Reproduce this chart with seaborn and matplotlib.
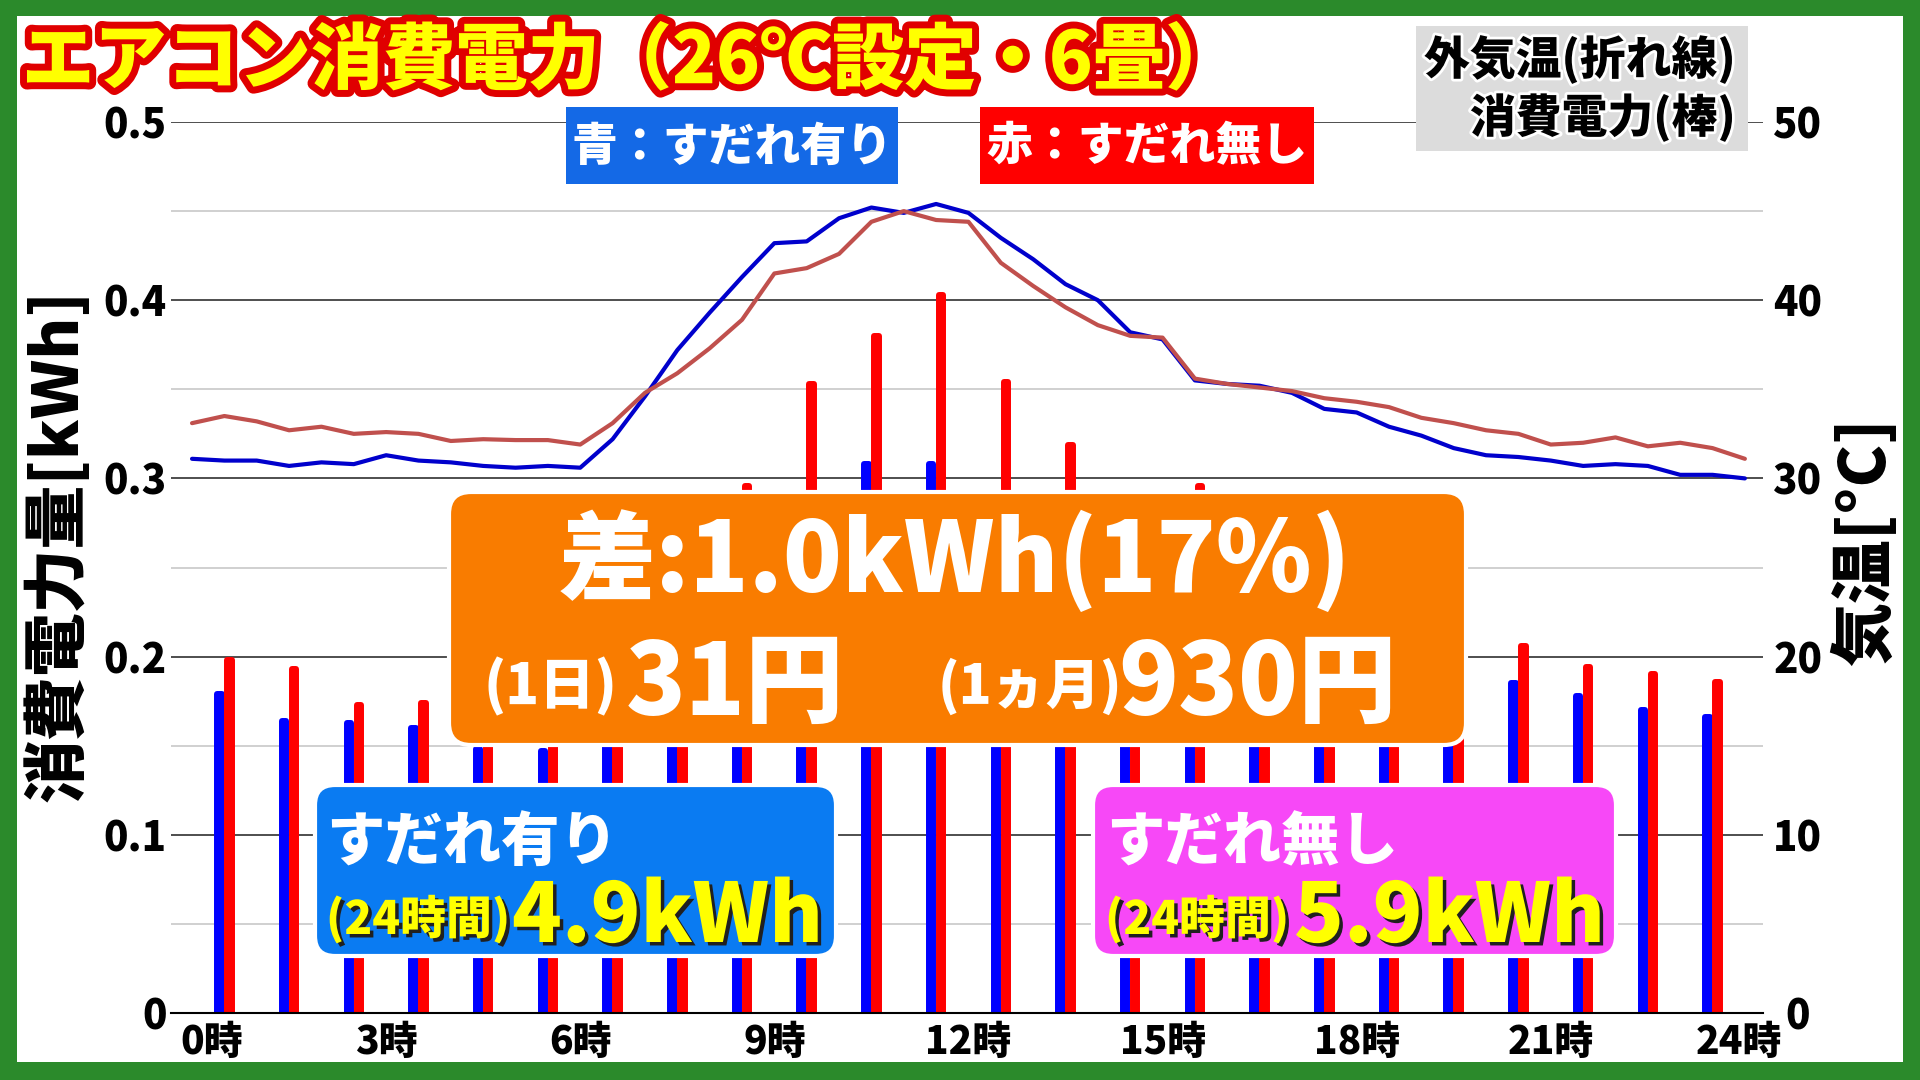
import matplotlib
matplotlib.use('Agg')
import matplotlib.pyplot as plt
import matplotlib.patheffects as pe
from matplotlib.patches import Rectangle, FancyBboxPatch
from matplotlib.ticker import MultipleLocator
import numpy as np
import pandas as pd
import seaborn as sns

#####  data

# hourly power use [kWh], bars centred on each hour (0-1時, 1-2時, ...)
bar_hours = ['0', '1', '2', '3', '4', '5', '6', '7', '8', '9', '10', '11',
             '12', '13', '14', '15', '16', '17', '18', '19', '20', '21', '22', '23']
kwh_with = [0.179, 0.164, 0.163, 0.160, 0.148, 0.147, 0.160, 0.180, 0.220, 0.260, 0.308, 0.308,
            0.280, 0.260, 0.240, 0.230, 0.220, 0.200, 0.190, 0.190, 0.185, 0.178, 0.170, 0.166]
kwh_without = [0.198, 0.193, 0.173, 0.174, 0.170, 0.170, 0.190, 0.230, 0.296, 0.353, 0.380, 0.403,
               0.354, 0.319, 0.285, 0.296, 0.260, 0.240, 0.230, 0.220, 0.206, 0.194, 0.190, 0.186]

# outside temperature [°C], every 30 minutes
temp_hours = [0, 0.5, 1, 1.5, 2, 2.5, 3, 3.5, 4, 4.5, 5, 5.5, 6, 6.5, 7, 7.5, 8, 8.5, 9, 9.5,
              10, 10.5, 11, 11.5, 12, 12.5, 13, 13.5, 14, 14.5, 15, 15.5, 16, 16.5, 17, 17.5,
              18, 18.5, 19, 19.5, 20, 20.5, 21, 21.5, 22, 22.5, 23, 23.5, 24]
temp_with = [31.1, 31.0, 31.0, 30.7, 30.9, 30.8, 31.3, 31.0, 30.9, 30.7, 30.6, 30.7, 30.6,
             32.2, 34.6, 37.2, 39.3, 41.3, 43.2, 43.3, 44.6, 45.2, 44.9, 45.4, 44.9,
             43.5, 42.3, 40.9, 40.0, 38.2, 37.8, 35.5, 35.3, 35.2, 34.8, 33.9, 33.7,
             32.9, 32.4, 31.7, 31.3, 31.2, 31.0, 30.7, 30.8, 30.7, 30.2, 30.2, 30.0]
temp_without = [33.1, 33.5, 33.2, 32.7, 32.9, 32.5, 32.6, 32.5, 32.1, 32.2, 32.15, 32.15, 31.9,
                33.1, 34.8, 35.9, 37.3, 38.9, 41.5, 41.8, 42.6, 44.4, 45.0, 44.5, 44.4,
                42.1, 40.8, 39.6, 38.6, 38.0, 37.9, 35.6, 35.3, 35.1, 34.9, 34.5, 34.3,
                34.0, 33.4, 33.1, 32.7, 32.5, 31.9, 32.0, 32.3, 31.8, 32.0, 31.7, 31.1]

xtick_hours = [0, 3, 6, 9, 12, 15, 18, 21, 24]
xtick_labels = ['0時', '3時', '6時', '9時', '12時', '15時', '18時', '21時', '24時']
ytick_kwh = [0, 0.1, 0.2, 0.3, 0.4, 0.5]
ytick_kwh_labels = ['0', '0.1', '0.2', '0.3', '0.4', '0.5']
ytick_temp = [0, 10, 20, 30, 40, 50]

COND_WITH = 'すだれ有り'
COND_WITHOUT = 'すだれ無し'

bars = pd.DataFrame({
    'hour': bar_hours * 2,
    'kwh': kwh_with + kwh_without,
    'cond': [COND_WITH] * len(bar_hours) + [COND_WITHOUT] * len(bar_hours),
})
# category position of hour h is h - 0.5 (bars sit on the half hour)
temps = pd.DataFrame({
    'pos': [h - 0.5 for h in temp_hours] * 2,
    'temp': temp_with + temp_without,
    'cond': [COND_WITH] * len(temp_hours) + [COND_WITHOUT] * len(temp_hours),
})

#####  style

sns.set_theme(style='white')
plt.rcParams['font.family'] = ['Noto Sans CJK JP', 'DejaVu Sans']
plt.rcParams['font.weight'] = 'black'

GREEN = '#2B8A2B'
fig = plt.figure(figsize=(19.2, 10.8), dpi=100, facecolor=GREEN)

bg = fig.add_axes([0, 0, 1, 1], zorder=-1)
bg.set_xlim(0, 1920)
bg.set_ylim(1080, 0)
bg.axis('off')
bg.add_patch(Rectangle((17, 16), 1886, 1046, facecolor='white', edgecolor='none'))

# plot area: x 171..1763, y 122..1013 px
ax = fig.add_axes([171 / 1920, 1 - 1013 / 1080, (1763 - 171) / 1920, (1013 - 122) / 1080], zorder=1)
ax.patch.set_visible(False)

sns.barplot(data=bars, x='hour', y='kwh', hue='cond', hue_order=[COND_WITH, COND_WITHOUT],
            palette={COND_WITH: '#0000FF', COND_WITHOUT: '#FF0000'}, width=0.31, gap=0.55,
            dodge=True, saturation=1, legend=False, ax=ax, zorder=2)
for p in ax.patches:
    p.set_edgecolor(p.get_facecolor())
    p.set_linewidth(4.3)
    p.set_joinstyle('round')

ax.set_ylim(0, 0.5)
ax.set_xlim(-0.825, 23.78)
ax.set_yticks(ytick_kwh, ytick_kwh_labels)
ax.yaxis.set_minor_locator(MultipleLocator(0.05))
xpos = [h - 0.5 for h in xtick_hours]
xpos[0] += 0.3  # the first label is pushed inside the plot area
xpos[-1] -= 0.1
ax.set_xticks(xpos, xtick_labels)
ax.grid(axis='y', which='major', color='#303030', linewidth=1.2)
ax.grid(axis='y', which='minor', color='#C8C8C8', linewidth=1.2)
ax.grid(axis='x', visible=False)
ax.set_axisbelow(True)
for s in ['top', 'left', 'right']:
    ax.spines[s].set_visible(False)
ax.spines['bottom'].set_color('black')
ax.spines['bottom'].set_linewidth(1.5)
ax.tick_params(axis='both', which='both', length=0)
ax.tick_params(axis='y', labelsize=29, pad=3, labelcolor='black')
ax.tick_params(axis='x', labelsize=28, pad=7, labelcolor='black')
ax.set_xlabel('')
ax.set_ylabel('')

ax2 = ax.twinx()
ax2.patch.set_visible(False)
sns.lineplot(data=temps, x='pos', y='temp', hue='cond', hue_order=[COND_WITH, COND_WITHOUT],
             palette={COND_WITH: '#0000CC', COND_WITHOUT: '#C0504D'}, linewidth=3,
             legend=False, ax=ax2)
ax2.set_ylim(0, 50)
ax2.set_yticks(ytick_temp)
ax2.set_xlim(-0.825, 23.78)
for s in ['top', 'left', 'right', 'bottom']:
    ax2.spines[s].set_visible(False)
ax2.tick_params(axis='y', length=0, labelsize=29, pad=25, labelcolor='black')
for t in ax2.get_yticklabels():
    t.set_ha('center')
ax2.set_xlabel('')
ax2.set_ylabel('')
ax2.grid(False)

#####  overlay texts and boxes (pixel coordinates)

ov = fig.add_axes([0, 0, 1, 1], zorder=5)
ov.set_xlim(0, 1920)
ov.set_ylim(1080, 0)
ov.axis('off')
ov.patch.set_visible(False)


def box(x0, y0, x1, y1, color, r=18, edge='white'):
    ov.add_patch(FancyBboxPatch((x0, y0), x1 - x0, y1 - y0,
                                boxstyle=f'round,pad=0,rounding_size={r}',
                                facecolor=color, edgecolor=edge, linewidth=3))


HEAVY = 'black'
shadow = [pe.SimplePatchShadow(offset=(2.5, -2.5), shadow_rgbFace='#202020', alpha=1), pe.Normal()]

# title
ov.text(22, 62, 'エアコン消費電力（26℃設定・6畳）', fontsize=52, color='#FFFF00', weight=HEAVY,
        ha='left', va='center',
        path_effects=[pe.Stroke(linewidth=10, foreground='#E00000'), pe.Normal()])

# colour legend
ov.add_patch(Rectangle((566, 107), 332, 77, facecolor='#1469E6', edgecolor='none'))
ov.text(732, 147, '青：すだれ有り', fontsize=33, color='white', weight=HEAVY, ha='center', va='center')
ov.add_patch(Rectangle((980, 107), 334, 77, facecolor='#FF0000', edgecolor='none'))
ov.text(1147, 147, '赤：すだれ無し', fontsize=33, color='white', weight=HEAVY, ha='center', va='center')

# line / bar legend
ov.add_patch(Rectangle((1416, 26), 332, 125, facecolor='#DCDCDC', edgecolor='none'))
glow = [pe.Stroke(linewidth=4, foreground='white'), pe.Normal()]
ov.text(1736, 60, '外気温(折れ線)', fontsize=33, color='black', weight=HEAVY, ha='right', va='center',
        path_effects=glow)
ov.text(1736, 118, '消費電力(棒)', fontsize=33, color='black', weight=HEAVY, ha='right', va='center',
        path_effects=glow)

# axis titles
ov.text(58, 545, '消費電力量[kWh]', fontsize=46, color='black', weight=HEAVY, rotation=90,
        ha='center', va='center')
ov.text(1865, 542, '気温[°C]', fontsize=46, color='black', weight=HEAVY, rotation=90,
        ha='center', va='center')

# difference box
box(449, 492, 1466, 745, '#F97C00', r=22)
ov.text(955, 561, '差:1.0kWh(17%)', fontsize=70, color='white', weight=HEAVY, ha='center', va='center')
ov.text(484, 704, '(1日)', fontsize=40, color='white', weight=HEAVY, ha='left', va='baseline')
ov.text(626, 715, '31円', fontsize=71, color='white', weight=HEAVY, ha='left', va='baseline')
ov.text(938, 704, '(1ヵ月)', fontsize=39, color='white', weight=HEAVY, ha='left', va='baseline')
ov.text(1118, 715, '930円', fontsize=71, color='white', weight=HEAVY, ha='left', va='baseline')

# totals
box(315, 785, 836, 956, '#0A7BF2', r=20)
ov.text(326, 843, 'すだれ有り', fontsize=42, color='white', weight=HEAVY, ha='left', va='center')
ov.text(326, 934, '(24時間)', fontsize=33, color='#FFFF00', weight=HEAVY, ha='left', va='baseline',
        path_effects=shadow)
ov.text(512, 942, '4.9kWh', fontsize=59, color='#FFFF00', weight=HEAVY, ha='left', va='baseline',
        path_effects=shadow)

box(1093, 785, 1616, 956, '#F748F7', r=20)
ov.text(1106, 843, 'すだれ無し', fontsize=42, color='white', weight=HEAVY, ha='left', va='center')
ov.text(1105, 934, '(24時間)', fontsize=33, color='#FFFF00', weight=HEAVY, ha='left', va='baseline',
        path_effects=shadow)
ov.text(1294, 942, '5.9kWh', fontsize=59, color='#FFFF00', weight=HEAVY, ha='left', va='baseline',
        path_effects=shadow)

plt.savefig('out.png', dpi=100)
